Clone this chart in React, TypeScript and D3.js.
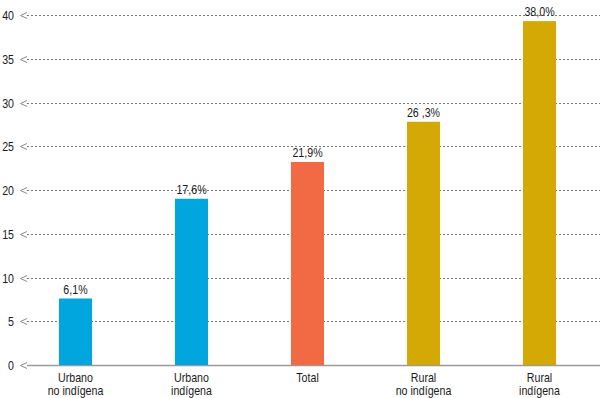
import React, { useEffect, useRef } from 'react';
import * as d3 from 'd3';

// categories (two lines each)
const categories = ['Urbano\nno indígena', 'Urbano\nindígena', 'Total', 'Rural\nno indígena', 'Rural\nindígena'];
// bar heights as drawn in the picture
const barValues = [7.6, 19.0, 23.2, 27.8, 39.3];
// labels printed on top of the bars
const valueLabels = ['6,1%', '17,6%', '21,9%', '26 ,3%', '38,0%'];
const barColors = ['#00a6dd', '#00a6dd', '#f26a44', '#d4a905', '#d4a905'];
const yTicks = [0, 5, 10, 15, 20, 25, 30, 35, 40];

const W = 600;
const H = 398;
const FONT = '"Liberation Sans", Arial, sans-serif';
const FS = 13;
const SQUEEZE = 0.82; // the original uses a condensed face

export default function App() {
  const ref = useRef<SVGSVGElement | null>(null);

  useEffect(() => {
    const svg = d3.select(ref.current);
    svg.selectAll('*').remove();

    const y = d3.scaleLinear().domain([0, 40]).range([365, 15]);
    const x = d3
      .scaleBand<string>()
      .domain(categories)
      .range([17.5, 597.5])
      .paddingInner(0.715)
      .paddingOuter(0.3575);

    // condensed text helper
    const label = (g: any, px: number, py: number, anchor: string) =>
      g
        .append('g')
        .attr('transform', `translate(${px},${py}) scale(${SQUEEZE},1)`)
        .append('text')
        .attr('text-anchor', anchor)
        .attr('font-family', FONT)
        .attr('font-size', FS)
        .attr('fill', '#1a1a1a');

    // gridlines with little arrow heads
    const grid = svg.append('g');
    yTicks.forEach((t) => {
      const yy = Math.round(y(t)) + 0.5;
      grid
        .append('line')
        .attr('x1', 27)
        .attr('x2', W)
        .attr('y1', yy)
        .attr('y2', yy)
        .attr('stroke', t === 0 ? '#9a9a9a' : '#777')
        .attr('stroke-width', t === 0 ? 1.5 : 1)
        .attr('stroke-dasharray', t === 0 ? null : '2,2');
      grid
        .append('path')
        .attr('d', `M27,${yy - 3}L20.5,${yy}L27,${yy + 3}`)
        .attr('fill', 'none')
        .attr('stroke', '#888')
        .attr('stroke-width', 1);
      label(grid, 14, yy, 'end').attr('dy', '0.36em').text(t);
    });

    // bars
    svg
      .append('g')
      .selectAll('rect')
      .data(barValues)
      .join('rect')
      .attr('x', (_, i) => x(categories[i]) as number)
      .attr('width', x.bandwidth())
      .attr('y', (d) => y(d))
      .attr('height', (d) => y(0) - y(d))
      .attr('fill', (_, i) => barColors[i]);

    // value labels
    const vals = svg.append('g');
    barValues.forEach((v, i) => {
      const cx = (x(categories[i]) as number) + x.bandwidth() / 2;
      label(vals, cx, y(v) - 5, 'middle').text(valueLabels[i]);
    });

    // category labels
    const cat = svg.append('g');
    categories.forEach((c) => {
      const cx = (x(c) as number) + x.bandwidth() / 2;
      c.split('\n').forEach((line, j) => {
        label(cat, cx, 381.5 + j * 13, 'middle').text(line);
      });
    });
  }, []);

  return (
    <svg
      ref={ref}
      width={W}
      height={H}
      style={{ position: 'fixed', left: 0, top: 0, background: '#fff' }}
    />
  );
}
